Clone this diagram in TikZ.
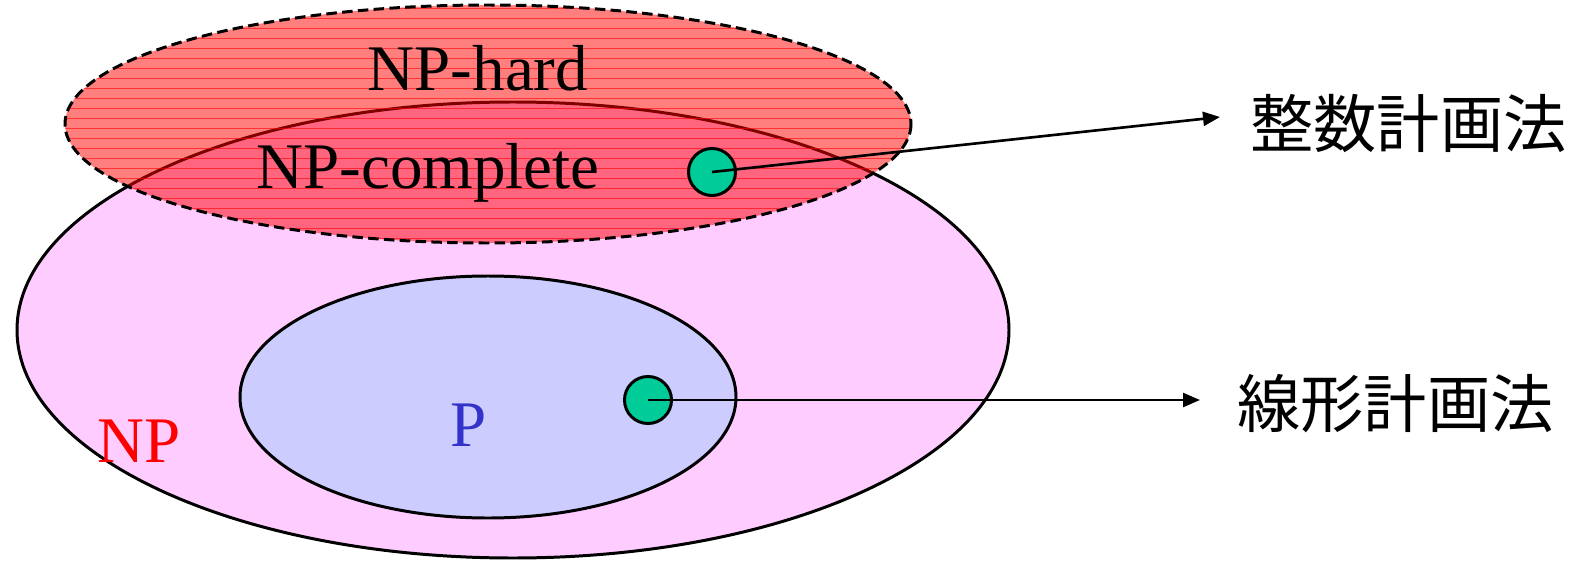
\documentclass[tikz,border=0pt]{standalone}
\usepackage{fontspec}
\setmainfont{Liberation Serif}
\newfontfamily\jpfont{Noto Sans CJK JP}
\usepackage{tikz}
\usetikzlibrary{arrows.meta,positioning}
\definecolor{npfill}{HTML}{FFCCFF}
\definecolor{pfill}{HTML}{CCCCFF}
\definecolor{dotgreen}{HTML}{00CC99}
\definecolor{pblue}{HTML}{3333CC}

\begin{document}
\begin{tikzpicture}[x=0.2mm,y=-0.2mm,
  setline/.style={draw=black,line width=1.7pt},
  setname/.style={font=\fontsize{37}{40}\selectfont,anchor=base},
  dot/.style={circle,draw=black,line width=1.7pt,fill=dotgreen,
              minimum size=9.4mm,inner sep=0pt},
  problem/.style={font=\jpfont\fontsize{36}{40}\selectfont,anchor=west,
                  inner sep=0pt},
  arr/.style={-{Triangle[length=3.4mm,width=2.8mm]},line width=1.5pt},
]
  \useasboundingbox (0,0) rectangle (1572,565);

  % NP and P
  \path[setline,fill=npfill] (513,330) ellipse [x radius=496,y radius=228];
  \path[setline,fill=pfill] (488,397) ellipse [x radius=248,y radius=121];

  % NP-hard, hatched and see-through
  \fill[red,fill opacity=0.5] (488,124) ellipse [x radius=423,y radius=119];
  \begin{scope}
    \clip (488,124) ellipse [x radius=423,y radius=119];
    \foreach \y in {8,18,...,248}
      \draw[red,line width=0.5pt,opacity=0.6] (60,\y) -- (920,\y);
  \end{scope}
  \draw[line width=1.7pt,dash pattern=on 6pt off 3pt]
    (488,124) ellipse [x radius=423,y radius=119];

  \node[setname] (nphard) at (478,90) {NP-hard};
  \node[setname] (npc) at (428,188) {NP-complete};
  \node[setname,text=red] (np) at (139,462) {NP};
  \node[setname,text=pblue] (p) at (469,446) {P};

  \node[dot] (ipdot) at (712,172) {};
  \node[dot] (lpdot) at (648,400) {};

  \node[problem] (ip) at (1250,124) {整数計画法};
  \node[problem] (lp) at (1237,404) {線形計画法};

  \draw[arr] (ipdot.center) -- ([xshift=-6mm,yshift=1.4mm]ip.west);
  \draw[arr] (lpdot.center) -- ([xshift=-7.4mm]lp.west |- lpdot.center);
\end{tikzpicture}
\end{document}
